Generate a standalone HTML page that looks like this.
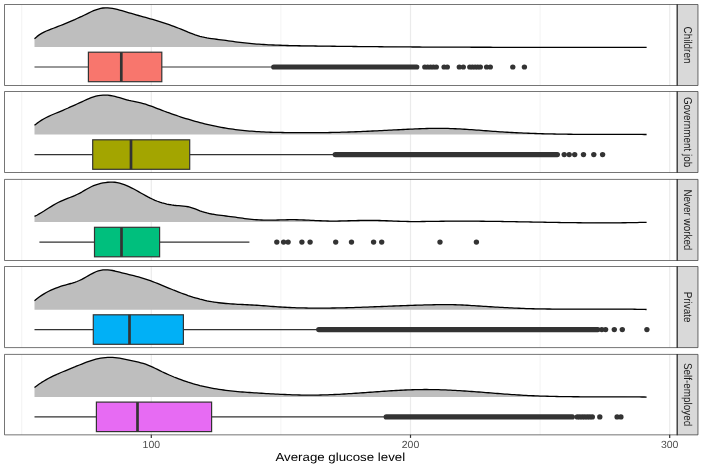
<!DOCTYPE html>
<html><head><meta charset="utf-8"><title>Average glucose level</title>
<style>html,body{margin:0;padding:0;background:#fff;}svg{display:block;font-family:"Liberation Sans",sans-serif;text-rendering:geometricPrecision;will-change:transform;opacity:0.999;}</style></head>
<body>
<svg width="702" height="468" viewBox="0 0 702 468">
<rect width="702" height="468" fill="#fff"/>
<g>
<line x1="21.7" x2="21.7" y1="4.5" y2="85.5" stroke="#ebebeb" stroke-width="0.6"/>
<line x1="280.9" x2="280.9" y1="4.5" y2="85.5" stroke="#ebebeb" stroke-width="0.6"/>
<line x1="540.1" x2="540.1" y1="4.5" y2="85.5" stroke="#ebebeb" stroke-width="0.6"/>
<line x1="151.3" x2="151.3" y1="4.5" y2="85.5" stroke="#ebebeb" stroke-width="1.2"/>
<line x1="410.5" x2="410.5" y1="4.5" y2="85.5" stroke="#ebebeb" stroke-width="1.2"/>
<line x1="669.7" x2="669.7" y1="4.5" y2="85.5" stroke="#ebebeb" stroke-width="1.2"/>
<path d="M34.5,38.73 L36.9,36.64 L39.2,34.88 L41.6,33.39 L44.0,32.12 L46.3,31.02 L48.7,30.04 L51.0,29.13 L53.4,28.24 L55.8,27.34 L58.1,26.42 L60.5,25.49 L62.9,24.54 L65.2,23.58 L67.6,22.60 L69.9,21.61 L72.3,20.60 L74.7,19.57 L77.0,18.52 L79.4,17.45 L81.8,16.35 L84.1,15.23 L86.5,14.07 L88.9,12.90 L91.2,11.77 L93.6,10.71 L95.9,9.78 L98.3,9.01 L100.7,8.41 L103.0,8.01 L105.4,7.82 L107.8,7.86 L110.1,8.07 L112.5,8.44 L114.9,8.92 L117.2,9.46 L119.6,10.07 L121.9,10.71 L124.3,11.38 L126.7,12.08 L129.0,12.78 L131.4,13.48 L133.8,14.17 L136.1,14.84 L138.5,15.50 L140.8,16.15 L143.2,16.80 L145.6,17.44 L147.9,18.09 L150.3,18.76 L152.7,19.44 L155.0,20.13 L157.4,20.85 L159.8,21.58 L162.1,22.33 L164.5,23.11 L166.8,23.90 L169.2,24.72 L171.6,25.56 L173.9,26.43 L176.3,27.33 L178.7,28.25 L181.0,29.20 L183.4,30.17 L185.8,31.15 L188.1,32.11 L190.5,33.05 L192.8,33.95 L195.2,34.79 L197.6,35.56 L199.9,36.27 L202.3,36.90 L204.7,37.45 L207.0,37.92 L209.4,38.32 L211.7,38.66 L214.1,38.97 L216.5,39.25 L218.8,39.54 L221.2,39.83 L223.6,40.14 L225.9,40.47 L228.3,40.80 L230.7,41.14 L233.0,41.47 L235.4,41.80 L237.7,42.11 L240.1,42.41 L242.5,42.69 L244.8,42.95 L247.2,43.19 L249.6,43.42 L251.9,43.64 L254.3,43.84 L256.7,44.03 L259.0,44.20 L261.4,44.36 L263.7,44.51 L266.1,44.65 L268.5,44.78 L270.8,44.89 L273.2,45.00 L275.6,45.10 L277.9,45.19 L280.3,45.27 L282.6,45.35 L285.0,45.42 L287.4,45.48 L289.7,45.54 L292.1,45.60 L294.5,45.64 L296.8,45.69 L299.2,45.73 L301.6,45.78 L303.9,45.81 L306.3,45.85 L308.6,45.89 L311.0,45.93 L313.4,45.96 L315.7,46.00 L318.1,46.04 L320.5,46.07 L322.8,46.10 L325.2,46.14 L327.6,46.17 L329.9,46.20 L332.3,46.23 L334.6,46.26 L337.0,46.29 L339.4,46.32 L341.7,46.35 L344.1,46.38 L346.5,46.41 L348.8,46.44 L351.2,46.46 L353.5,46.49 L355.9,46.52 L358.3,46.54 L360.6,46.56 L363.0,46.59 L365.4,46.61 L367.7,46.64 L370.1,46.66 L372.5,46.68 L374.8,46.70 L377.2,46.72 L379.5,46.74 L381.9,46.76 L384.3,46.78 L386.6,46.80 L389.0,46.82 L391.4,46.84 L393.7,46.86 L396.1,46.87 L398.5,46.89 L400.8,46.91 L403.2,46.92 L405.5,46.94 L407.9,46.95 L410.3,46.97 L412.6,46.98 L415.0,47.00 L417.4,47.01 L419.7,47.02 L422.1,47.04 L424.4,47.05 L426.8,47.06 L429.2,47.07 L431.5,47.08 L433.9,47.10 L436.3,47.11 L438.6,47.12 L441.0,47.13 L443.4,47.14 L445.7,47.15 L448.1,47.15 L450.4,47.16 L452.8,47.17 L455.2,47.18 L457.5,47.19 L459.9,47.20 L462.3,47.20 L464.6,47.21 L467.0,47.22 L469.4,47.22 L471.7,47.23 L474.1,47.24 L476.4,47.24 L478.8,47.25 L481.2,47.25 L483.5,47.26 L485.9,47.26 L488.3,47.27 L490.6,47.27 L493.0,47.28 L495.3,47.28 L497.7,47.28 L500.1,47.29 L502.4,47.29 L504.8,47.29 L507.2,47.30 L509.5,47.30 L511.9,47.30 L514.3,47.31 L516.6,47.31 L519.0,47.31 L521.3,47.31 L523.7,47.32 L526.1,47.32 L528.4,47.32 L530.8,47.32 L533.2,47.32 L535.5,47.33 L537.9,47.33 L540.3,47.33 L542.6,47.33 L545.0,47.33 L547.3,47.33 L549.7,47.34 L552.1,47.34 L554.4,47.34 L556.8,47.34 L559.2,47.34 L561.5,47.34 L563.9,47.34 L566.2,47.34 L568.6,47.35 L571.0,47.35 L573.3,47.35 L575.7,47.35 L578.1,47.35 L580.4,47.35 L582.8,47.35 L585.2,47.35 L587.5,47.36 L589.9,47.36 L592.2,47.36 L594.6,47.36 L597.0,47.36 L599.3,47.36 L601.7,47.36 L604.1,47.37 L606.4,47.37 L608.8,47.37 L611.2,47.37 L613.5,47.37 L615.9,47.38 L618.2,47.38 L620.6,47.38 L623.0,47.38 L625.3,47.39 L627.7,47.39 L630.1,47.39 L632.4,47.40 L634.8,47.40 L637.1,47.40 L639.5,47.41 L641.9,47.41 L644.2,47.42 L646.6,47.42 L646.6,47.0 L34.5,47.0 Z" fill="#bebebe"/>
<path d="M34.5,38.73 L36.9,36.64 L39.2,34.88 L41.6,33.39 L44.0,32.12 L46.3,31.02 L48.7,30.04 L51.0,29.13 L53.4,28.24 L55.8,27.34 L58.1,26.42 L60.5,25.49 L62.9,24.54 L65.2,23.58 L67.6,22.60 L69.9,21.61 L72.3,20.60 L74.7,19.57 L77.0,18.52 L79.4,17.45 L81.8,16.35 L84.1,15.23 L86.5,14.07 L88.9,12.90 L91.2,11.77 L93.6,10.71 L95.9,9.78 L98.3,9.01 L100.7,8.41 L103.0,8.01 L105.4,7.82 L107.8,7.86 L110.1,8.07 L112.5,8.44 L114.9,8.92 L117.2,9.46 L119.6,10.07 L121.9,10.71 L124.3,11.38 L126.7,12.08 L129.0,12.78 L131.4,13.48 L133.8,14.17 L136.1,14.84 L138.5,15.50 L140.8,16.15 L143.2,16.80 L145.6,17.44 L147.9,18.09 L150.3,18.76 L152.7,19.44 L155.0,20.13 L157.4,20.85 L159.8,21.58 L162.1,22.33 L164.5,23.11 L166.8,23.90 L169.2,24.72 L171.6,25.56 L173.9,26.43 L176.3,27.33 L178.7,28.25 L181.0,29.20 L183.4,30.17 L185.8,31.15 L188.1,32.11 L190.5,33.05 L192.8,33.95 L195.2,34.79 L197.6,35.56 L199.9,36.27 L202.3,36.90 L204.7,37.45 L207.0,37.92 L209.4,38.32 L211.7,38.66 L214.1,38.97 L216.5,39.25 L218.8,39.54 L221.2,39.83 L223.6,40.14 L225.9,40.47 L228.3,40.80 L230.7,41.14 L233.0,41.47 L235.4,41.80 L237.7,42.11 L240.1,42.41 L242.5,42.69 L244.8,42.95 L247.2,43.19 L249.6,43.42 L251.9,43.64 L254.3,43.84 L256.7,44.03 L259.0,44.20 L261.4,44.36 L263.7,44.51 L266.1,44.65 L268.5,44.78 L270.8,44.89 L273.2,45.00 L275.6,45.10 L277.9,45.19 L280.3,45.27 L282.6,45.35 L285.0,45.42 L287.4,45.48 L289.7,45.54 L292.1,45.60 L294.5,45.64 L296.8,45.69 L299.2,45.73 L301.6,45.78 L303.9,45.81 L306.3,45.85 L308.6,45.89 L311.0,45.93 L313.4,45.96 L315.7,46.00 L318.1,46.04 L320.5,46.07 L322.8,46.10 L325.2,46.14 L327.6,46.17 L329.9,46.20 L332.3,46.23 L334.6,46.26 L337.0,46.29 L339.4,46.32 L341.7,46.35 L344.1,46.38 L346.5,46.41 L348.8,46.44 L351.2,46.46 L353.5,46.49 L355.9,46.52 L358.3,46.54 L360.6,46.56 L363.0,46.59 L365.4,46.61 L367.7,46.64 L370.1,46.66 L372.5,46.68 L374.8,46.70 L377.2,46.72 L379.5,46.74 L381.9,46.76 L384.3,46.78 L386.6,46.80 L389.0,46.82 L391.4,46.84 L393.7,46.86 L396.1,46.87 L398.5,46.89 L400.8,46.91 L403.2,46.92 L405.5,46.94 L407.9,46.95 L410.3,46.97 L412.6,46.98 L415.0,47.00 L417.4,47.01 L419.7,47.02 L422.1,47.04 L424.4,47.05 L426.8,47.06 L429.2,47.07 L431.5,47.08 L433.9,47.10 L436.3,47.11 L438.6,47.12 L441.0,47.13 L443.4,47.14 L445.7,47.15 L448.1,47.15 L450.4,47.16 L452.8,47.17 L455.2,47.18 L457.5,47.19 L459.9,47.20 L462.3,47.20 L464.6,47.21 L467.0,47.22 L469.4,47.22 L471.7,47.23 L474.1,47.24 L476.4,47.24 L478.8,47.25 L481.2,47.25 L483.5,47.26 L485.9,47.26 L488.3,47.27 L490.6,47.27 L493.0,47.28 L495.3,47.28 L497.7,47.28 L500.1,47.29 L502.4,47.29 L504.8,47.29 L507.2,47.30 L509.5,47.30 L511.9,47.30 L514.3,47.31 L516.6,47.31 L519.0,47.31 L521.3,47.31 L523.7,47.32 L526.1,47.32 L528.4,47.32 L530.8,47.32 L533.2,47.32 L535.5,47.33 L537.9,47.33 L540.3,47.33 L542.6,47.33 L545.0,47.33 L547.3,47.33 L549.7,47.34 L552.1,47.34 L554.4,47.34 L556.8,47.34 L559.2,47.34 L561.5,47.34 L563.9,47.34 L566.2,47.34 L568.6,47.35 L571.0,47.35 L573.3,47.35 L575.7,47.35 L578.1,47.35 L580.4,47.35 L582.8,47.35 L585.2,47.35 L587.5,47.36 L589.9,47.36 L592.2,47.36 L594.6,47.36 L597.0,47.36 L599.3,47.36 L601.7,47.36 L604.1,47.37 L606.4,47.37 L608.8,47.37 L611.2,47.37 L613.5,47.37 L615.9,47.38 L618.2,47.38 L620.6,47.38 L623.0,47.38 L625.3,47.39 L627.7,47.39 L630.1,47.39 L632.4,47.40 L634.8,47.40 L637.1,47.40 L639.5,47.41 L641.9,47.41 L644.2,47.42 L646.6,47.42" fill="none" stroke="#000" stroke-width="1.3" stroke-linejoin="round"/>
<path d="M34.5,67.0 L88.4,67.0 M161.8,67.0 L273.5,67.0" stroke="#333" stroke-width="1.2"/>
<rect x="88.4" y="52.2" width="73.4" height="29.5" fill="#F8766D" stroke="#333" stroke-width="1.2"/>
<line x1="121.3" x2="121.3" y1="52.2" y2="81.7" stroke="#333" stroke-width="2.7"/>
<rect x="271.1" y="64.45" width="148.3" height="5.1" rx="2.7" ry="2.55" fill="#333"/>
<ellipse cx="424.8" cy="67.0" rx="2.7" ry="2.55" fill="#333"/>
<ellipse cx="427.7" cy="67.0" rx="2.7" ry="2.55" fill="#333"/>
<ellipse cx="430.6" cy="67.0" rx="2.7" ry="2.55" fill="#333"/>
<ellipse cx="433.4" cy="67.0" rx="2.7" ry="2.55" fill="#333"/>
<ellipse cx="436.3" cy="67.0" rx="2.7" ry="2.55" fill="#333"/>
<ellipse cx="444.1" cy="67.0" rx="2.7" ry="2.55" fill="#333"/>
<ellipse cx="447.3" cy="67.0" rx="2.7" ry="2.55" fill="#333"/>
<ellipse cx="459.3" cy="67.0" rx="2.7" ry="2.55" fill="#333"/>
<ellipse cx="463.3" cy="67.0" rx="2.7" ry="2.55" fill="#333"/>
<ellipse cx="469.8" cy="67.0" rx="2.7" ry="2.55" fill="#333"/>
<ellipse cx="472.4" cy="67.0" rx="2.7" ry="2.55" fill="#333"/>
<ellipse cx="475.1" cy="67.0" rx="2.7" ry="2.55" fill="#333"/>
<ellipse cx="477.7" cy="67.0" rx="2.7" ry="2.55" fill="#333"/>
<ellipse cx="480.3" cy="67.0" rx="2.7" ry="2.55" fill="#333"/>
<ellipse cx="486.6" cy="67.0" rx="2.7" ry="2.55" fill="#333"/>
<ellipse cx="490.3" cy="67.0" rx="2.7" ry="2.55" fill="#333"/>
<ellipse cx="512.8" cy="67.0" rx="2.7" ry="2.55" fill="#333"/>
<ellipse cx="524.4" cy="67.0" rx="2.7" ry="2.55" fill="#333"/>
<rect x="677.2" y="4.2" width="21.1" height="81.6" fill="#d9d9d9"/>
<path d="M4.5,85.5 L4.5,4.5 L697.95,4.5 L697.95,85.5 Z" fill="none" stroke="#333" stroke-width="0.68"/>
<line x1="677.2" x2="677.2" y1="4.2" y2="85.8" stroke="#333" stroke-width="1.35"/>
<text transform="translate(683.6,45.0) rotate(90) scale(1,1.15)" text-anchor="middle" font-size="9.9" fill="#1a1a1a">Children</text>
</g>
<g>
<line x1="21.7" x2="21.7" y1="91.5" y2="172.5" stroke="#ebebeb" stroke-width="0.6"/>
<line x1="280.9" x2="280.9" y1="91.5" y2="172.5" stroke="#ebebeb" stroke-width="0.6"/>
<line x1="540.1" x2="540.1" y1="91.5" y2="172.5" stroke="#ebebeb" stroke-width="0.6"/>
<line x1="151.3" x2="151.3" y1="91.5" y2="172.5" stroke="#ebebeb" stroke-width="1.2"/>
<line x1="410.5" x2="410.5" y1="91.5" y2="172.5" stroke="#ebebeb" stroke-width="1.2"/>
<line x1="669.7" x2="669.7" y1="91.5" y2="172.5" stroke="#ebebeb" stroke-width="1.2"/>
<path d="M34.5,125.29 L36.9,123.39 L39.2,121.69 L41.6,120.15 L44.0,118.77 L46.3,117.51 L48.7,116.35 L51.0,115.27 L53.4,114.25 L55.8,113.26 L58.1,112.28 L60.5,111.29 L62.9,110.28 L65.2,109.26 L67.6,108.23 L69.9,107.18 L72.3,106.12 L74.7,105.06 L77.0,103.99 L79.4,102.91 L81.8,101.84 L84.1,100.77 L86.5,99.72 L88.9,98.67 L91.2,97.69 L93.6,96.82 L95.9,96.13 L98.3,95.61 L100.7,95.28 L103.0,95.10 L105.4,95.09 L107.8,95.22 L110.1,95.50 L112.5,95.91 L114.9,96.43 L117.2,97.05 L119.6,97.71 L121.9,98.41 L124.3,99.12 L126.7,99.79 L129.0,100.41 L131.4,100.95 L133.8,101.42 L136.1,101.88 L138.5,102.35 L140.8,102.89 L143.2,103.53 L145.6,104.24 L147.9,105.02 L150.3,105.85 L152.7,106.73 L155.0,107.63 L157.4,108.54 L159.8,109.46 L162.1,110.36 L164.5,111.25 L166.8,112.13 L169.2,112.98 L171.6,113.82 L173.9,114.65 L176.3,115.46 L178.7,116.25 L181.0,117.02 L183.4,117.78 L185.8,118.52 L188.1,119.24 L190.5,119.94 L192.8,120.62 L195.2,121.29 L197.6,121.94 L199.9,122.56 L202.3,123.17 L204.7,123.76 L207.0,124.33 L209.4,124.88 L211.7,125.41 L214.1,125.92 L216.5,126.40 L218.8,126.87 L221.2,127.32 L223.6,127.74 L225.9,128.15 L228.3,128.53 L230.7,128.89 L233.0,129.22 L235.4,129.54 L237.7,129.84 L240.1,130.11 L242.5,130.37 L244.8,130.61 L247.2,130.83 L249.6,131.03 L251.9,131.22 L254.3,131.39 L256.7,131.55 L259.0,131.69 L261.4,131.82 L263.7,131.94 L266.1,132.05 L268.5,132.14 L270.8,132.23 L273.2,132.30 L275.6,132.37 L277.9,132.42 L280.3,132.47 L282.6,132.51 L285.0,132.55 L287.4,132.58 L289.7,132.61 L292.1,132.63 L294.5,132.65 L296.8,132.66 L299.2,132.68 L301.6,132.68 L303.9,132.69 L306.3,132.69 L308.6,132.69 L311.0,132.68 L313.4,132.67 L315.7,132.66 L318.1,132.64 L320.5,132.62 L322.8,132.60 L325.2,132.57 L327.6,132.53 L329.9,132.49 L332.3,132.45 L334.6,132.40 L337.0,132.34 L339.4,132.28 L341.7,132.22 L344.1,132.15 L346.5,132.08 L348.8,132.00 L351.2,131.92 L353.5,131.83 L355.9,131.74 L358.3,131.64 L360.6,131.55 L363.0,131.44 L365.4,131.34 L367.7,131.24 L370.1,131.13 L372.5,131.02 L374.8,130.90 L377.2,130.79 L379.5,130.67 L381.9,130.56 L384.3,130.44 L386.6,130.32 L389.0,130.20 L391.4,130.08 L393.7,129.96 L396.1,129.85 L398.5,129.73 L400.8,129.61 L403.2,129.50 L405.5,129.38 L407.9,129.27 L410.3,129.16 L412.6,129.05 L415.0,128.94 L417.4,128.84 L419.7,128.75 L422.1,128.66 L424.4,128.59 L426.8,128.52 L429.2,128.46 L431.5,128.41 L433.9,128.37 L436.3,128.35 L438.6,128.34 L441.0,128.35 L443.4,128.38 L445.7,128.42 L448.1,128.47 L450.4,128.54 L452.8,128.63 L455.2,128.73 L457.5,128.84 L459.9,128.96 L462.3,129.09 L464.6,129.23 L467.0,129.38 L469.4,129.54 L471.7,129.70 L474.1,129.87 L476.4,130.04 L478.8,130.21 L481.2,130.39 L483.5,130.57 L485.9,130.75 L488.3,130.93 L490.6,131.10 L493.0,131.28 L495.3,131.45 L497.7,131.62 L500.1,131.78 L502.4,131.93 L504.8,132.08 L507.2,132.23 L509.5,132.36 L511.9,132.50 L514.3,132.62 L516.6,132.74 L519.0,132.86 L521.3,132.97 L523.7,133.07 L526.1,133.17 L528.4,133.27 L530.8,133.35 L533.2,133.44 L535.5,133.52 L537.9,133.60 L540.3,133.67 L542.6,133.74 L545.0,133.80 L547.3,133.86 L549.7,133.92 L552.1,133.97 L554.4,134.02 L556.8,134.06 L559.2,134.10 L561.5,134.14 L563.9,134.18 L566.2,134.21 L568.6,134.24 L571.0,134.27 L573.3,134.29 L575.7,134.32 L578.1,134.34 L580.4,134.36 L582.8,134.37 L585.2,134.39 L587.5,134.40 L589.9,134.41 L592.2,134.42 L594.6,134.42 L597.0,134.43 L599.3,134.44 L601.7,134.44 L604.1,134.44 L606.4,134.45 L608.8,134.45 L611.2,134.45 L613.5,134.45 L615.9,134.45 L618.2,134.45 L620.6,134.45 L623.0,134.45 L625.3,134.45 L627.7,134.45 L630.1,134.45 L632.4,134.46 L634.8,134.46 L637.1,134.46 L639.5,134.47 L641.9,134.47 L644.2,134.48 L646.6,134.49 L646.6,134.6 L34.5,134.6 Z" fill="#bebebe"/>
<path d="M34.5,125.29 L36.9,123.39 L39.2,121.69 L41.6,120.15 L44.0,118.77 L46.3,117.51 L48.7,116.35 L51.0,115.27 L53.4,114.25 L55.8,113.26 L58.1,112.28 L60.5,111.29 L62.9,110.28 L65.2,109.26 L67.6,108.23 L69.9,107.18 L72.3,106.12 L74.7,105.06 L77.0,103.99 L79.4,102.91 L81.8,101.84 L84.1,100.77 L86.5,99.72 L88.9,98.67 L91.2,97.69 L93.6,96.82 L95.9,96.13 L98.3,95.61 L100.7,95.28 L103.0,95.10 L105.4,95.09 L107.8,95.22 L110.1,95.50 L112.5,95.91 L114.9,96.43 L117.2,97.05 L119.6,97.71 L121.9,98.41 L124.3,99.12 L126.7,99.79 L129.0,100.41 L131.4,100.95 L133.8,101.42 L136.1,101.88 L138.5,102.35 L140.8,102.89 L143.2,103.53 L145.6,104.24 L147.9,105.02 L150.3,105.85 L152.7,106.73 L155.0,107.63 L157.4,108.54 L159.8,109.46 L162.1,110.36 L164.5,111.25 L166.8,112.13 L169.2,112.98 L171.6,113.82 L173.9,114.65 L176.3,115.46 L178.7,116.25 L181.0,117.02 L183.4,117.78 L185.8,118.52 L188.1,119.24 L190.5,119.94 L192.8,120.62 L195.2,121.29 L197.6,121.94 L199.9,122.56 L202.3,123.17 L204.7,123.76 L207.0,124.33 L209.4,124.88 L211.7,125.41 L214.1,125.92 L216.5,126.40 L218.8,126.87 L221.2,127.32 L223.6,127.74 L225.9,128.15 L228.3,128.53 L230.7,128.89 L233.0,129.22 L235.4,129.54 L237.7,129.84 L240.1,130.11 L242.5,130.37 L244.8,130.61 L247.2,130.83 L249.6,131.03 L251.9,131.22 L254.3,131.39 L256.7,131.55 L259.0,131.69 L261.4,131.82 L263.7,131.94 L266.1,132.05 L268.5,132.14 L270.8,132.23 L273.2,132.30 L275.6,132.37 L277.9,132.42 L280.3,132.47 L282.6,132.51 L285.0,132.55 L287.4,132.58 L289.7,132.61 L292.1,132.63 L294.5,132.65 L296.8,132.66 L299.2,132.68 L301.6,132.68 L303.9,132.69 L306.3,132.69 L308.6,132.69 L311.0,132.68 L313.4,132.67 L315.7,132.66 L318.1,132.64 L320.5,132.62 L322.8,132.60 L325.2,132.57 L327.6,132.53 L329.9,132.49 L332.3,132.45 L334.6,132.40 L337.0,132.34 L339.4,132.28 L341.7,132.22 L344.1,132.15 L346.5,132.08 L348.8,132.00 L351.2,131.92 L353.5,131.83 L355.9,131.74 L358.3,131.64 L360.6,131.55 L363.0,131.44 L365.4,131.34 L367.7,131.24 L370.1,131.13 L372.5,131.02 L374.8,130.90 L377.2,130.79 L379.5,130.67 L381.9,130.56 L384.3,130.44 L386.6,130.32 L389.0,130.20 L391.4,130.08 L393.7,129.96 L396.1,129.85 L398.5,129.73 L400.8,129.61 L403.2,129.50 L405.5,129.38 L407.9,129.27 L410.3,129.16 L412.6,129.05 L415.0,128.94 L417.4,128.84 L419.7,128.75 L422.1,128.66 L424.4,128.59 L426.8,128.52 L429.2,128.46 L431.5,128.41 L433.9,128.37 L436.3,128.35 L438.6,128.34 L441.0,128.35 L443.4,128.38 L445.7,128.42 L448.1,128.47 L450.4,128.54 L452.8,128.63 L455.2,128.73 L457.5,128.84 L459.9,128.96 L462.3,129.09 L464.6,129.23 L467.0,129.38 L469.4,129.54 L471.7,129.70 L474.1,129.87 L476.4,130.04 L478.8,130.21 L481.2,130.39 L483.5,130.57 L485.9,130.75 L488.3,130.93 L490.6,131.10 L493.0,131.28 L495.3,131.45 L497.7,131.62 L500.1,131.78 L502.4,131.93 L504.8,132.08 L507.2,132.23 L509.5,132.36 L511.9,132.50 L514.3,132.62 L516.6,132.74 L519.0,132.86 L521.3,132.97 L523.7,133.07 L526.1,133.17 L528.4,133.27 L530.8,133.35 L533.2,133.44 L535.5,133.52 L537.9,133.60 L540.3,133.67 L542.6,133.74 L545.0,133.80 L547.3,133.86 L549.7,133.92 L552.1,133.97 L554.4,134.02 L556.8,134.06 L559.2,134.10 L561.5,134.14 L563.9,134.18 L566.2,134.21 L568.6,134.24 L571.0,134.27 L573.3,134.29 L575.7,134.32 L578.1,134.34 L580.4,134.36 L582.8,134.37 L585.2,134.39 L587.5,134.40 L589.9,134.41 L592.2,134.42 L594.6,134.42 L597.0,134.43 L599.3,134.44 L601.7,134.44 L604.1,134.44 L606.4,134.45 L608.8,134.45 L611.2,134.45 L613.5,134.45 L615.9,134.45 L618.2,134.45 L620.6,134.45 L623.0,134.45 L625.3,134.45 L627.7,134.45 L630.1,134.45 L632.4,134.46 L634.8,134.46 L637.1,134.46 L639.5,134.47 L641.9,134.47 L644.2,134.48 L646.6,134.49" fill="none" stroke="#000" stroke-width="1.3" stroke-linejoin="round"/>
<path d="M34.5,154.6 L92.7,154.6 M189.7,154.6 L335.0,154.6" stroke="#333" stroke-width="1.2"/>
<rect x="92.7" y="139.8" width="97.0" height="29.5" fill="#A3A500" stroke="#333" stroke-width="1.2"/>
<line x1="131.0" x2="131.0" y1="139.8" y2="169.3" stroke="#333" stroke-width="2.7"/>
<rect x="332.6" y="152.05" width="227.4" height="5.1" rx="2.7" ry="2.55" fill="#333"/>
<ellipse cx="564.1999999999999" cy="154.6" rx="2.7" ry="2.55" fill="#333"/>
<ellipse cx="569.1999999999999" cy="154.6" rx="2.7" ry="2.55" fill="#333"/>
<ellipse cx="574.6999999999999" cy="154.6" rx="2.7" ry="2.55" fill="#333"/>
<ellipse cx="583.5" cy="154.6" rx="2.7" ry="2.55" fill="#333"/>
<ellipse cx="593.8" cy="154.6" rx="2.7" ry="2.55" fill="#333"/>
<ellipse cx="602.5999999999999" cy="154.6" rx="2.7" ry="2.55" fill="#333"/>
<rect x="677.2" y="91.2" width="21.1" height="81.6" fill="#d9d9d9"/>
<path d="M4.5,172.5 L4.5,91.5 L697.95,91.5 L697.95,172.5 Z" fill="none" stroke="#333" stroke-width="0.68"/>
<line x1="677.2" x2="677.2" y1="91.2" y2="172.8" stroke="#333" stroke-width="1.35"/>
<text transform="translate(683.6,132.0) rotate(90) scale(1,1.15)" text-anchor="middle" font-size="9.9" fill="#1a1a1a">Government job</text>
</g>
<g>
<line x1="21.7" x2="21.7" y1="179.4" y2="260.5" stroke="#ebebeb" stroke-width="0.6"/>
<line x1="280.9" x2="280.9" y1="179.4" y2="260.5" stroke="#ebebeb" stroke-width="0.6"/>
<line x1="540.1" x2="540.1" y1="179.4" y2="260.5" stroke="#ebebeb" stroke-width="0.6"/>
<line x1="151.3" x2="151.3" y1="179.4" y2="260.5" stroke="#ebebeb" stroke-width="1.2"/>
<line x1="410.5" x2="410.5" y1="179.4" y2="260.5" stroke="#ebebeb" stroke-width="1.2"/>
<line x1="669.7" x2="669.7" y1="179.4" y2="260.5" stroke="#ebebeb" stroke-width="1.2"/>
<path d="M34.5,216.41 L36.9,215.21 L39.2,213.89 L41.6,212.50 L44.0,211.04 L46.3,209.55 L48.7,208.06 L51.0,206.58 L53.4,205.15 L55.8,203.79 L58.1,202.52 L60.5,201.37 L62.9,200.32 L65.2,199.35 L67.6,198.42 L69.9,197.50 L72.3,196.56 L74.7,195.58 L77.0,194.52 L79.4,193.35 L81.8,192.06 L84.1,190.68 L86.5,189.29 L88.9,187.96 L91.2,186.76 L93.6,185.71 L95.9,184.82 L98.3,184.06 L100.7,183.43 L103.0,182.93 L105.4,182.55 L107.8,182.27 L110.1,182.12 L112.5,182.11 L114.9,182.26 L117.2,182.59 L119.6,183.10 L121.9,183.78 L124.3,184.61 L126.7,185.57 L129.0,186.63 L131.4,187.79 L133.8,189.01 L136.1,190.30 L138.5,191.62 L140.8,192.95 L143.2,194.29 L145.6,195.61 L147.9,196.89 L150.3,198.11 L152.7,199.26 L155.0,200.31 L157.4,201.26 L159.8,202.10 L162.1,202.84 L164.5,203.49 L166.8,204.04 L169.2,204.51 L171.6,204.91 L173.9,205.24 L176.3,205.51 L178.7,205.72 L181.0,205.89 L183.4,206.09 L185.8,206.35 L188.1,206.74 L190.5,207.31 L192.8,208.07 L195.2,208.96 L197.6,209.90 L199.9,210.80 L202.3,211.62 L204.7,212.33 L207.0,212.96 L209.4,213.51 L211.7,213.99 L214.1,214.41 L216.5,214.79 L218.8,215.12 L221.2,215.43 L223.6,215.72 L225.9,216.00 L228.3,216.29 L230.7,216.58 L233.0,216.89 L235.4,217.22 L237.7,217.55 L240.1,217.88 L242.5,218.21 L244.8,218.52 L247.2,218.82 L249.6,219.09 L251.9,219.33 L254.3,219.55 L256.7,219.73 L259.0,219.89 L261.4,220.00 L263.7,220.08 L266.1,220.13 L268.5,220.14 L270.8,220.13 L273.2,220.09 L275.6,220.05 L277.9,219.99 L280.3,219.92 L282.6,219.86 L285.0,219.80 L287.4,219.75 L289.7,219.72 L292.1,219.70 L294.5,219.71 L296.8,219.75 L299.2,219.81 L301.6,219.89 L303.9,219.98 L306.3,220.08 L308.6,220.19 L311.0,220.31 L313.4,220.43 L315.7,220.55 L318.1,220.66 L320.5,220.77 L322.8,220.86 L325.2,220.94 L327.6,221.00 L329.9,221.04 L332.3,221.06 L334.6,221.06 L337.0,221.03 L339.4,220.99 L341.7,220.94 L344.1,220.88 L346.5,220.81 L348.8,220.74 L351.2,220.67 L353.5,220.60 L355.9,220.54 L358.3,220.48 L360.6,220.44 L363.0,220.40 L365.4,220.38 L367.7,220.37 L370.1,220.37 L372.5,220.39 L374.8,220.42 L377.2,220.46 L379.5,220.52 L381.9,220.59 L384.3,220.68 L386.6,220.77 L389.0,220.86 L391.4,220.96 L393.7,221.06 L396.1,221.15 L398.5,221.24 L400.8,221.32 L403.2,221.40 L405.5,221.45 L407.9,221.50 L410.3,221.53 L412.6,221.54 L415.0,221.55 L417.4,221.55 L419.7,221.54 L422.1,221.52 L424.4,221.49 L426.8,221.46 L429.2,221.43 L431.5,221.40 L433.9,221.36 L436.3,221.32 L438.6,221.29 L441.0,221.26 L443.4,221.23 L445.7,221.21 L448.1,221.19 L450.4,221.18 L452.8,221.16 L455.2,221.15 L457.5,221.15 L459.9,221.14 L462.3,221.14 L464.6,221.15 L467.0,221.15 L469.4,221.16 L471.7,221.17 L474.1,221.18 L476.4,221.20 L478.8,221.22 L481.2,221.24 L483.5,221.26 L485.9,221.28 L488.3,221.31 L490.6,221.34 L493.0,221.37 L495.3,221.40 L497.7,221.43 L500.1,221.47 L502.4,221.50 L504.8,221.54 L507.2,221.58 L509.5,221.62 L511.9,221.66 L514.3,221.70 L516.6,221.74 L519.0,221.78 L521.3,221.82 L523.7,221.86 L526.1,221.91 L528.4,221.95 L530.8,222.00 L533.2,222.04 L535.5,222.08 L537.9,222.13 L540.3,222.17 L542.6,222.21 L545.0,222.26 L547.3,222.30 L549.7,222.34 L552.1,222.38 L554.4,222.42 L556.8,222.46 L559.2,222.50 L561.5,222.53 L563.9,222.57 L566.2,222.60 L568.6,222.63 L571.0,222.67 L573.3,222.69 L575.7,222.72 L578.1,222.75 L580.4,222.77 L582.8,222.79 L585.2,222.81 L587.5,222.83 L589.9,222.85 L592.2,222.86 L594.6,222.87 L597.0,222.88 L599.3,222.89 L601.7,222.89 L604.1,222.89 L606.4,222.88 L608.8,222.88 L611.2,222.87 L613.5,222.86 L615.9,222.84 L618.2,222.82 L620.6,222.80 L623.0,222.77 L625.3,222.74 L627.7,222.70 L630.1,222.67 L632.4,222.62 L634.8,222.58 L637.1,222.53 L639.5,222.47 L641.9,222.41 L644.2,222.35 L646.6,222.28 L646.6,222.1 L34.5,222.1 Z" fill="#bebebe"/>
<path d="M34.5,216.41 L36.9,215.21 L39.2,213.89 L41.6,212.50 L44.0,211.04 L46.3,209.55 L48.7,208.06 L51.0,206.58 L53.4,205.15 L55.8,203.79 L58.1,202.52 L60.5,201.37 L62.9,200.32 L65.2,199.35 L67.6,198.42 L69.9,197.50 L72.3,196.56 L74.7,195.58 L77.0,194.52 L79.4,193.35 L81.8,192.06 L84.1,190.68 L86.5,189.29 L88.9,187.96 L91.2,186.76 L93.6,185.71 L95.9,184.82 L98.3,184.06 L100.7,183.43 L103.0,182.93 L105.4,182.55 L107.8,182.27 L110.1,182.12 L112.5,182.11 L114.9,182.26 L117.2,182.59 L119.6,183.10 L121.9,183.78 L124.3,184.61 L126.7,185.57 L129.0,186.63 L131.4,187.79 L133.8,189.01 L136.1,190.30 L138.5,191.62 L140.8,192.95 L143.2,194.29 L145.6,195.61 L147.9,196.89 L150.3,198.11 L152.7,199.26 L155.0,200.31 L157.4,201.26 L159.8,202.10 L162.1,202.84 L164.5,203.49 L166.8,204.04 L169.2,204.51 L171.6,204.91 L173.9,205.24 L176.3,205.51 L178.7,205.72 L181.0,205.89 L183.4,206.09 L185.8,206.35 L188.1,206.74 L190.5,207.31 L192.8,208.07 L195.2,208.96 L197.6,209.90 L199.9,210.80 L202.3,211.62 L204.7,212.33 L207.0,212.96 L209.4,213.51 L211.7,213.99 L214.1,214.41 L216.5,214.79 L218.8,215.12 L221.2,215.43 L223.6,215.72 L225.9,216.00 L228.3,216.29 L230.7,216.58 L233.0,216.89 L235.4,217.22 L237.7,217.55 L240.1,217.88 L242.5,218.21 L244.8,218.52 L247.2,218.82 L249.6,219.09 L251.9,219.33 L254.3,219.55 L256.7,219.73 L259.0,219.89 L261.4,220.00 L263.7,220.08 L266.1,220.13 L268.5,220.14 L270.8,220.13 L273.2,220.09 L275.6,220.05 L277.9,219.99 L280.3,219.92 L282.6,219.86 L285.0,219.80 L287.4,219.75 L289.7,219.72 L292.1,219.70 L294.5,219.71 L296.8,219.75 L299.2,219.81 L301.6,219.89 L303.9,219.98 L306.3,220.08 L308.6,220.19 L311.0,220.31 L313.4,220.43 L315.7,220.55 L318.1,220.66 L320.5,220.77 L322.8,220.86 L325.2,220.94 L327.6,221.00 L329.9,221.04 L332.3,221.06 L334.6,221.06 L337.0,221.03 L339.4,220.99 L341.7,220.94 L344.1,220.88 L346.5,220.81 L348.8,220.74 L351.2,220.67 L353.5,220.60 L355.9,220.54 L358.3,220.48 L360.6,220.44 L363.0,220.40 L365.4,220.38 L367.7,220.37 L370.1,220.37 L372.5,220.39 L374.8,220.42 L377.2,220.46 L379.5,220.52 L381.9,220.59 L384.3,220.68 L386.6,220.77 L389.0,220.86 L391.4,220.96 L393.7,221.06 L396.1,221.15 L398.5,221.24 L400.8,221.32 L403.2,221.40 L405.5,221.45 L407.9,221.50 L410.3,221.53 L412.6,221.54 L415.0,221.55 L417.4,221.55 L419.7,221.54 L422.1,221.52 L424.4,221.49 L426.8,221.46 L429.2,221.43 L431.5,221.40 L433.9,221.36 L436.3,221.32 L438.6,221.29 L441.0,221.26 L443.4,221.23 L445.7,221.21 L448.1,221.19 L450.4,221.18 L452.8,221.16 L455.2,221.15 L457.5,221.15 L459.9,221.14 L462.3,221.14 L464.6,221.15 L467.0,221.15 L469.4,221.16 L471.7,221.17 L474.1,221.18 L476.4,221.20 L478.8,221.22 L481.2,221.24 L483.5,221.26 L485.9,221.28 L488.3,221.31 L490.6,221.34 L493.0,221.37 L495.3,221.40 L497.7,221.43 L500.1,221.47 L502.4,221.50 L504.8,221.54 L507.2,221.58 L509.5,221.62 L511.9,221.66 L514.3,221.70 L516.6,221.74 L519.0,221.78 L521.3,221.82 L523.7,221.86 L526.1,221.91 L528.4,221.95 L530.8,222.00 L533.2,222.04 L535.5,222.08 L537.9,222.13 L540.3,222.17 L542.6,222.21 L545.0,222.26 L547.3,222.30 L549.7,222.34 L552.1,222.38 L554.4,222.42 L556.8,222.46 L559.2,222.50 L561.5,222.53 L563.9,222.57 L566.2,222.60 L568.6,222.63 L571.0,222.67 L573.3,222.69 L575.7,222.72 L578.1,222.75 L580.4,222.77 L582.8,222.79 L585.2,222.81 L587.5,222.83 L589.9,222.85 L592.2,222.86 L594.6,222.87 L597.0,222.88 L599.3,222.89 L601.7,222.89 L604.1,222.89 L606.4,222.88 L608.8,222.88 L611.2,222.87 L613.5,222.86 L615.9,222.84 L618.2,222.82 L620.6,222.80 L623.0,222.77 L625.3,222.74 L627.7,222.70 L630.1,222.67 L632.4,222.62 L634.8,222.58 L637.1,222.53 L639.5,222.47 L641.9,222.41 L644.2,222.35 L646.6,222.28" fill="none" stroke="#000" stroke-width="1.3" stroke-linejoin="round"/>
<path d="M39.4,242.1 L94.5,242.1 M159.6,242.1 L249.4,242.1" stroke="#333" stroke-width="1.2"/>
<rect x="94.5" y="227.3" width="65.1" height="29.5" fill="#00BF7D" stroke="#333" stroke-width="1.2"/>
<line x1="121.5" x2="121.5" y1="227.3" y2="256.8" stroke="#333" stroke-width="2.7"/>
<ellipse cx="276.8" cy="242.1" rx="2.7" ry="2.55" fill="#333"/>
<ellipse cx="283.6" cy="242.1" rx="2.7" ry="2.55" fill="#333"/>
<ellipse cx="288.1" cy="242.1" rx="2.7" ry="2.55" fill="#333"/>
<ellipse cx="301.90000000000003" cy="242.1" rx="2.7" ry="2.55" fill="#333"/>
<ellipse cx="310.1" cy="242.1" rx="2.7" ry="2.55" fill="#333"/>
<ellipse cx="335.7" cy="242.1" rx="2.7" ry="2.55" fill="#333"/>
<ellipse cx="351.5" cy="242.1" rx="2.7" ry="2.55" fill="#333"/>
<ellipse cx="373.6" cy="242.1" rx="2.7" ry="2.55" fill="#333"/>
<ellipse cx="381.7" cy="242.1" rx="2.7" ry="2.55" fill="#333"/>
<ellipse cx="440.0" cy="242.1" rx="2.7" ry="2.55" fill="#333"/>
<ellipse cx="476.40000000000003" cy="242.1" rx="2.7" ry="2.55" fill="#333"/>
<rect x="677.2" y="179.1" width="21.1" height="81.7" fill="#d9d9d9"/>
<path d="M4.5,260.5 L4.5,179.4 L697.95,179.4 L697.95,260.5 Z" fill="none" stroke="#333" stroke-width="0.68"/>
<line x1="677.2" x2="677.2" y1="179.1" y2="260.8" stroke="#333" stroke-width="1.35"/>
<text transform="translate(683.6,219.9) rotate(90) scale(1,1.15)" text-anchor="middle" font-size="9.9" fill="#1a1a1a">Never worked</text>
</g>
<g>
<line x1="21.7" x2="21.7" y1="266.5" y2="347.6" stroke="#ebebeb" stroke-width="0.6"/>
<line x1="280.9" x2="280.9" y1="266.5" y2="347.6" stroke="#ebebeb" stroke-width="0.6"/>
<line x1="540.1" x2="540.1" y1="266.5" y2="347.6" stroke="#ebebeb" stroke-width="0.6"/>
<line x1="151.3" x2="151.3" y1="266.5" y2="347.6" stroke="#ebebeb" stroke-width="1.2"/>
<line x1="410.5" x2="410.5" y1="266.5" y2="347.6" stroke="#ebebeb" stroke-width="1.2"/>
<line x1="669.7" x2="669.7" y1="266.5" y2="347.6" stroke="#ebebeb" stroke-width="1.2"/>
<path d="M34.5,300.75 L36.9,298.80 L39.2,297.01 L41.6,295.37 L44.0,293.87 L46.3,292.51 L48.7,291.26 L51.0,290.12 L53.4,289.09 L55.8,288.14 L58.1,287.28 L60.5,286.48 L62.9,285.74 L65.2,285.05 L67.6,284.40 L69.9,283.75 L72.3,283.07 L74.7,282.33 L77.0,281.49 L79.4,280.52 L81.8,279.38 L84.1,278.11 L86.5,276.76 L88.9,275.39 L91.2,274.06 L93.6,272.83 L95.9,271.75 L98.3,270.88 L100.7,270.28 L103.0,269.91 L105.4,269.78 L107.8,269.84 L110.1,270.09 L112.5,270.49 L114.9,271.01 L117.2,271.60 L119.6,272.21 L121.9,272.80 L124.3,273.38 L126.7,273.95 L129.0,274.53 L131.4,275.11 L133.8,275.71 L136.1,276.32 L138.5,276.96 L140.8,277.64 L143.2,278.34 L145.6,279.09 L147.9,279.89 L150.3,280.73 L152.7,281.60 L155.0,282.51 L157.4,283.44 L159.8,284.39 L162.1,285.36 L164.5,286.33 L166.8,287.31 L169.2,288.29 L171.6,289.26 L173.9,290.23 L176.3,291.17 L178.7,292.09 L181.0,292.99 L183.4,293.87 L185.8,294.72 L188.1,295.54 L190.5,296.33 L192.8,297.08 L195.2,297.80 L197.6,298.49 L199.9,299.13 L202.3,299.73 L204.7,300.30 L207.0,300.81 L209.4,301.28 L211.7,301.71 L214.1,302.09 L216.5,302.44 L218.8,302.75 L221.2,303.02 L223.6,303.27 L225.9,303.49 L228.3,303.68 L230.7,303.86 L233.0,304.01 L235.4,304.16 L237.7,304.29 L240.1,304.41 L242.5,304.52 L244.8,304.64 L247.2,304.75 L249.6,304.87 L251.9,304.99 L254.3,305.12 L256.7,305.27 L259.0,305.43 L261.4,305.59 L263.7,305.77 L266.1,305.94 L268.5,306.13 L270.8,306.31 L273.2,306.49 L275.6,306.66 L277.9,306.83 L280.3,306.99 L282.6,307.13 L285.0,307.27 L287.4,307.39 L289.7,307.50 L292.1,307.61 L294.5,307.70 L296.8,307.78 L299.2,307.85 L301.6,307.92 L303.9,307.97 L306.3,308.02 L308.6,308.05 L311.0,308.08 L313.4,308.10 L315.7,308.12 L318.1,308.12 L320.5,308.12 L322.8,308.11 L325.2,308.10 L327.6,308.08 L329.9,308.05 L332.3,308.02 L334.6,307.99 L337.0,307.94 L339.4,307.90 L341.7,307.85 L344.1,307.79 L346.5,307.73 L348.8,307.67 L351.2,307.60 L353.5,307.53 L355.9,307.45 L358.3,307.38 L360.6,307.30 L363.0,307.21 L365.4,307.13 L367.7,307.04 L370.1,306.95 L372.5,306.86 L374.8,306.77 L377.2,306.68 L379.5,306.58 L381.9,306.49 L384.3,306.40 L386.6,306.30 L389.0,306.21 L391.4,306.11 L393.7,306.02 L396.1,305.93 L398.5,305.84 L400.8,305.75 L403.2,305.66 L405.5,305.57 L407.9,305.48 L410.3,305.40 L412.6,305.32 L415.0,305.24 L417.4,305.17 L419.7,305.10 L422.1,305.03 L424.4,304.97 L426.8,304.90 L429.2,304.85 L431.5,304.80 L433.9,304.75 L436.3,304.71 L438.6,304.68 L441.0,304.65 L443.4,304.64 L445.7,304.64 L448.1,304.65 L450.4,304.67 L452.8,304.71 L455.2,304.76 L457.5,304.83 L459.9,304.92 L462.3,305.02 L464.6,305.13 L467.0,305.25 L469.4,305.39 L471.7,305.53 L474.1,305.67 L476.4,305.82 L478.8,305.98 L481.2,306.14 L483.5,306.29 L485.9,306.45 L488.3,306.60 L490.6,306.75 L493.0,306.90 L495.3,307.04 L497.7,307.19 L500.1,307.32 L502.4,307.46 L504.8,307.59 L507.2,307.71 L509.5,307.83 L511.9,307.95 L514.3,308.06 L516.6,308.17 L519.0,308.27 L521.3,308.36 L523.7,308.45 L526.1,308.53 L528.4,308.60 L530.8,308.67 L533.2,308.74 L535.5,308.79 L537.9,308.84 L540.3,308.89 L542.6,308.93 L545.0,308.97 L547.3,309.00 L549.7,309.02 L552.1,309.05 L554.4,309.07 L556.8,309.08 L559.2,309.10 L561.5,309.11 L563.9,309.11 L566.2,309.12 L568.6,309.12 L571.0,309.12 L573.3,309.12 L575.7,309.11 L578.1,309.11 L580.4,309.10 L582.8,309.09 L585.2,309.09 L587.5,309.08 L589.9,309.07 L592.2,309.06 L594.6,309.06 L597.0,309.05 L599.3,309.04 L601.7,309.04 L604.1,309.04 L606.4,309.03 L608.8,309.03 L611.2,309.04 L613.5,309.04 L615.9,309.05 L618.2,309.06 L620.6,309.07 L623.0,309.09 L625.3,309.11 L627.7,309.14 L630.1,309.16 L632.4,309.20 L634.8,309.23 L637.1,309.28 L639.5,309.32 L641.9,309.38 L644.2,309.43 L646.6,309.50 L646.6,309.7 L34.5,309.7 Z" fill="#bebebe"/>
<path d="M34.5,300.75 L36.9,298.80 L39.2,297.01 L41.6,295.37 L44.0,293.87 L46.3,292.51 L48.7,291.26 L51.0,290.12 L53.4,289.09 L55.8,288.14 L58.1,287.28 L60.5,286.48 L62.9,285.74 L65.2,285.05 L67.6,284.40 L69.9,283.75 L72.3,283.07 L74.7,282.33 L77.0,281.49 L79.4,280.52 L81.8,279.38 L84.1,278.11 L86.5,276.76 L88.9,275.39 L91.2,274.06 L93.6,272.83 L95.9,271.75 L98.3,270.88 L100.7,270.28 L103.0,269.91 L105.4,269.78 L107.8,269.84 L110.1,270.09 L112.5,270.49 L114.9,271.01 L117.2,271.60 L119.6,272.21 L121.9,272.80 L124.3,273.38 L126.7,273.95 L129.0,274.53 L131.4,275.11 L133.8,275.71 L136.1,276.32 L138.5,276.96 L140.8,277.64 L143.2,278.34 L145.6,279.09 L147.9,279.89 L150.3,280.73 L152.7,281.60 L155.0,282.51 L157.4,283.44 L159.8,284.39 L162.1,285.36 L164.5,286.33 L166.8,287.31 L169.2,288.29 L171.6,289.26 L173.9,290.23 L176.3,291.17 L178.7,292.09 L181.0,292.99 L183.4,293.87 L185.8,294.72 L188.1,295.54 L190.5,296.33 L192.8,297.08 L195.2,297.80 L197.6,298.49 L199.9,299.13 L202.3,299.73 L204.7,300.30 L207.0,300.81 L209.4,301.28 L211.7,301.71 L214.1,302.09 L216.5,302.44 L218.8,302.75 L221.2,303.02 L223.6,303.27 L225.9,303.49 L228.3,303.68 L230.7,303.86 L233.0,304.01 L235.4,304.16 L237.7,304.29 L240.1,304.41 L242.5,304.52 L244.8,304.64 L247.2,304.75 L249.6,304.87 L251.9,304.99 L254.3,305.12 L256.7,305.27 L259.0,305.43 L261.4,305.59 L263.7,305.77 L266.1,305.94 L268.5,306.13 L270.8,306.31 L273.2,306.49 L275.6,306.66 L277.9,306.83 L280.3,306.99 L282.6,307.13 L285.0,307.27 L287.4,307.39 L289.7,307.50 L292.1,307.61 L294.5,307.70 L296.8,307.78 L299.2,307.85 L301.6,307.92 L303.9,307.97 L306.3,308.02 L308.6,308.05 L311.0,308.08 L313.4,308.10 L315.7,308.12 L318.1,308.12 L320.5,308.12 L322.8,308.11 L325.2,308.10 L327.6,308.08 L329.9,308.05 L332.3,308.02 L334.6,307.99 L337.0,307.94 L339.4,307.90 L341.7,307.85 L344.1,307.79 L346.5,307.73 L348.8,307.67 L351.2,307.60 L353.5,307.53 L355.9,307.45 L358.3,307.38 L360.6,307.30 L363.0,307.21 L365.4,307.13 L367.7,307.04 L370.1,306.95 L372.5,306.86 L374.8,306.77 L377.2,306.68 L379.5,306.58 L381.9,306.49 L384.3,306.40 L386.6,306.30 L389.0,306.21 L391.4,306.11 L393.7,306.02 L396.1,305.93 L398.5,305.84 L400.8,305.75 L403.2,305.66 L405.5,305.57 L407.9,305.48 L410.3,305.40 L412.6,305.32 L415.0,305.24 L417.4,305.17 L419.7,305.10 L422.1,305.03 L424.4,304.97 L426.8,304.90 L429.2,304.85 L431.5,304.80 L433.9,304.75 L436.3,304.71 L438.6,304.68 L441.0,304.65 L443.4,304.64 L445.7,304.64 L448.1,304.65 L450.4,304.67 L452.8,304.71 L455.2,304.76 L457.5,304.83 L459.9,304.92 L462.3,305.02 L464.6,305.13 L467.0,305.25 L469.4,305.39 L471.7,305.53 L474.1,305.67 L476.4,305.82 L478.8,305.98 L481.2,306.14 L483.5,306.29 L485.9,306.45 L488.3,306.60 L490.6,306.75 L493.0,306.90 L495.3,307.04 L497.7,307.19 L500.1,307.32 L502.4,307.46 L504.8,307.59 L507.2,307.71 L509.5,307.83 L511.9,307.95 L514.3,308.06 L516.6,308.17 L519.0,308.27 L521.3,308.36 L523.7,308.45 L526.1,308.53 L528.4,308.60 L530.8,308.67 L533.2,308.74 L535.5,308.79 L537.9,308.84 L540.3,308.89 L542.6,308.93 L545.0,308.97 L547.3,309.00 L549.7,309.02 L552.1,309.05 L554.4,309.07 L556.8,309.08 L559.2,309.10 L561.5,309.11 L563.9,309.11 L566.2,309.12 L568.6,309.12 L571.0,309.12 L573.3,309.12 L575.7,309.11 L578.1,309.11 L580.4,309.10 L582.8,309.09 L585.2,309.09 L587.5,309.08 L589.9,309.07 L592.2,309.06 L594.6,309.06 L597.0,309.05 L599.3,309.04 L601.7,309.04 L604.1,309.04 L606.4,309.03 L608.8,309.03 L611.2,309.04 L613.5,309.04 L615.9,309.05 L618.2,309.06 L620.6,309.07 L623.0,309.09 L625.3,309.11 L627.7,309.14 L630.1,309.16 L632.4,309.20 L634.8,309.23 L637.1,309.28 L639.5,309.32 L641.9,309.38 L644.2,309.43 L646.6,309.50" fill="none" stroke="#000" stroke-width="1.3" stroke-linejoin="round"/>
<path d="M34.5,329.6 L93.3,329.6 M183.4,329.6 L318.5,329.6" stroke="#333" stroke-width="1.2"/>
<rect x="93.3" y="314.8" width="90.1" height="29.5" fill="#00B0F6" stroke="#333" stroke-width="1.2"/>
<line x1="129.5" x2="129.5" y1="314.8" y2="344.3" stroke="#333" stroke-width="2.7"/>
<rect x="316.1" y="327.05" width="284.4" height="5.1" rx="2.7" ry="2.55" fill="#333"/>
<ellipse cx="601.8" cy="329.6" rx="2.7" ry="2.55" fill="#333"/>
<ellipse cx="605.5999999999999" cy="329.6" rx="2.7" ry="2.55" fill="#333"/>
<ellipse cx="614.3" cy="329.6" rx="2.7" ry="2.55" fill="#333"/>
<ellipse cx="622.3" cy="329.6" rx="2.7" ry="2.55" fill="#333"/>
<ellipse cx="646.9" cy="329.6" rx="2.7" ry="2.55" fill="#333"/>
<rect x="677.2" y="266.2" width="21.1" height="81.7" fill="#d9d9d9"/>
<path d="M4.5,347.6 L4.5,266.5 L697.95,266.5 L697.95,347.6 Z" fill="none" stroke="#333" stroke-width="0.68"/>
<line x1="677.2" x2="677.2" y1="266.2" y2="347.9" stroke="#333" stroke-width="1.35"/>
<text transform="translate(683.6,307.1) rotate(90) scale(1,1.15)" text-anchor="middle" font-size="9.9" fill="#1a1a1a">Private</text>
</g>
<g>
<line x1="21.7" x2="21.7" y1="354.4" y2="434.85" stroke="#ebebeb" stroke-width="0.6"/>
<line x1="280.9" x2="280.9" y1="354.4" y2="434.85" stroke="#ebebeb" stroke-width="0.6"/>
<line x1="540.1" x2="540.1" y1="354.4" y2="434.85" stroke="#ebebeb" stroke-width="0.6"/>
<line x1="151.3" x2="151.3" y1="354.4" y2="434.85" stroke="#ebebeb" stroke-width="1.2"/>
<line x1="410.5" x2="410.5" y1="354.4" y2="434.85" stroke="#ebebeb" stroke-width="1.2"/>
<line x1="669.7" x2="669.7" y1="354.4" y2="434.85" stroke="#ebebeb" stroke-width="1.2"/>
<path d="M34.5,387.43 L36.9,385.65 L39.2,383.98 L41.6,382.42 L44.0,380.96 L46.3,379.59 L48.7,378.30 L51.0,377.08 L53.4,375.93 L55.8,374.83 L58.1,373.78 L60.5,372.76 L62.9,371.77 L65.2,370.81 L67.6,369.85 L69.9,368.89 L72.3,367.93 L74.7,366.96 L77.0,365.97 L79.4,364.99 L81.8,364.03 L84.1,363.09 L86.5,362.19 L88.9,361.33 L91.2,360.54 L93.6,359.82 L95.9,359.18 L98.3,358.63 L100.7,358.18 L103.0,357.82 L105.4,357.56 L107.8,357.41 L110.1,357.35 L112.5,357.40 L114.9,357.55 L117.2,357.82 L119.6,358.17 L121.9,358.60 L124.3,359.09 L126.7,359.60 L129.0,360.12 L131.4,360.63 L133.8,361.14 L136.1,361.66 L138.5,362.21 L140.8,362.81 L143.2,363.47 L145.6,364.23 L147.9,365.10 L150.3,366.07 L152.7,367.14 L155.0,368.27 L157.4,369.44 L159.8,370.61 L162.1,371.76 L164.5,372.87 L166.8,373.95 L169.2,375.00 L171.6,376.01 L173.9,376.99 L176.3,377.93 L178.7,378.84 L181.0,379.71 L183.4,380.56 L185.8,381.36 L188.1,382.14 L190.5,382.88 L192.8,383.59 L195.2,384.27 L197.6,384.91 L199.9,385.52 L202.3,386.10 L204.7,386.65 L207.0,387.17 L209.4,387.66 L211.7,388.11 L214.1,388.54 L216.5,388.95 L218.8,389.33 L221.2,389.68 L223.6,390.01 L225.9,390.32 L228.3,390.61 L230.7,390.88 L233.0,391.14 L235.4,391.37 L237.7,391.59 L240.1,391.80 L242.5,392.00 L244.8,392.18 L247.2,392.35 L249.6,392.52 L251.9,392.67 L254.3,392.83 L256.7,392.97 L259.0,393.11 L261.4,393.25 L263.7,393.39 L266.1,393.53 L268.5,393.66 L270.8,393.80 L273.2,393.93 L275.6,394.06 L277.9,394.18 L280.3,394.30 L282.6,394.41 L285.0,394.52 L287.4,394.62 L289.7,394.72 L292.1,394.80 L294.5,394.88 L296.8,394.95 L299.2,395.01 L301.6,395.06 L303.9,395.10 L306.3,395.12 L308.6,395.14 L311.0,395.14 L313.4,395.13 L315.7,395.10 L318.1,395.06 L320.5,395.02 L322.8,394.96 L325.2,394.89 L327.6,394.81 L329.9,394.72 L332.3,394.62 L334.6,394.51 L337.0,394.40 L339.4,394.28 L341.7,394.15 L344.1,394.01 L346.5,393.87 L348.8,393.72 L351.2,393.57 L353.5,393.42 L355.9,393.26 L358.3,393.09 L360.6,392.93 L363.0,392.76 L365.4,392.59 L367.7,392.42 L370.1,392.25 L372.5,392.08 L374.8,391.91 L377.2,391.74 L379.5,391.57 L381.9,391.40 L384.3,391.24 L386.6,391.08 L389.0,390.92 L391.4,390.77 L393.7,390.63 L396.1,390.49 L398.5,390.35 L400.8,390.23 L403.2,390.11 L405.5,390.00 L407.9,389.90 L410.3,389.81 L412.6,389.73 L415.0,389.66 L417.4,389.61 L419.7,389.57 L422.1,389.54 L424.4,389.52 L426.8,389.52 L429.2,389.53 L431.5,389.56 L433.9,389.60 L436.3,389.65 L438.6,389.71 L441.0,389.78 L443.4,389.86 L445.7,389.96 L448.1,390.06 L450.4,390.17 L452.8,390.29 L455.2,390.42 L457.5,390.55 L459.9,390.70 L462.3,390.84 L464.6,391.00 L467.0,391.16 L469.4,391.32 L471.7,391.49 L474.1,391.66 L476.4,391.84 L478.8,392.02 L481.2,392.20 L483.5,392.38 L485.9,392.57 L488.3,392.75 L490.6,392.94 L493.0,393.12 L495.3,393.31 L497.7,393.49 L500.1,393.67 L502.4,393.85 L504.8,394.03 L507.2,394.20 L509.5,394.37 L511.9,394.54 L514.3,394.70 L516.6,394.85 L519.0,395.00 L521.3,395.15 L523.7,395.28 L526.1,395.41 L528.4,395.54 L530.8,395.65 L533.2,395.76 L535.5,395.86 L537.9,395.95 L540.3,396.04 L542.6,396.13 L545.0,396.20 L547.3,396.27 L549.7,396.34 L552.1,396.40 L554.4,396.45 L556.8,396.50 L559.2,396.55 L561.5,396.59 L563.9,396.63 L566.2,396.66 L568.6,396.69 L571.0,396.71 L573.3,396.74 L575.7,396.76 L578.1,396.77 L580.4,396.79 L582.8,396.80 L585.2,396.81 L587.5,396.82 L589.9,396.82 L592.2,396.83 L594.6,396.83 L597.0,396.84 L599.3,396.84 L601.7,396.84 L604.1,396.84 L606.4,396.84 L608.8,396.84 L611.2,396.84 L613.5,396.85 L615.9,396.85 L618.2,396.85 L620.6,396.86 L623.0,396.86 L625.3,396.87 L627.7,396.88 L630.1,396.89 L632.4,396.91 L634.8,396.92 L637.1,396.94 L639.5,396.97 L641.9,396.99 L644.2,397.02 L646.6,397.06 L646.6,396.9 L34.5,396.9 Z" fill="#bebebe"/>
<path d="M34.5,387.43 L36.9,385.65 L39.2,383.98 L41.6,382.42 L44.0,380.96 L46.3,379.59 L48.7,378.30 L51.0,377.08 L53.4,375.93 L55.8,374.83 L58.1,373.78 L60.5,372.76 L62.9,371.77 L65.2,370.81 L67.6,369.85 L69.9,368.89 L72.3,367.93 L74.7,366.96 L77.0,365.97 L79.4,364.99 L81.8,364.03 L84.1,363.09 L86.5,362.19 L88.9,361.33 L91.2,360.54 L93.6,359.82 L95.9,359.18 L98.3,358.63 L100.7,358.18 L103.0,357.82 L105.4,357.56 L107.8,357.41 L110.1,357.35 L112.5,357.40 L114.9,357.55 L117.2,357.82 L119.6,358.17 L121.9,358.60 L124.3,359.09 L126.7,359.60 L129.0,360.12 L131.4,360.63 L133.8,361.14 L136.1,361.66 L138.5,362.21 L140.8,362.81 L143.2,363.47 L145.6,364.23 L147.9,365.10 L150.3,366.07 L152.7,367.14 L155.0,368.27 L157.4,369.44 L159.8,370.61 L162.1,371.76 L164.5,372.87 L166.8,373.95 L169.2,375.00 L171.6,376.01 L173.9,376.99 L176.3,377.93 L178.7,378.84 L181.0,379.71 L183.4,380.56 L185.8,381.36 L188.1,382.14 L190.5,382.88 L192.8,383.59 L195.2,384.27 L197.6,384.91 L199.9,385.52 L202.3,386.10 L204.7,386.65 L207.0,387.17 L209.4,387.66 L211.7,388.11 L214.1,388.54 L216.5,388.95 L218.8,389.33 L221.2,389.68 L223.6,390.01 L225.9,390.32 L228.3,390.61 L230.7,390.88 L233.0,391.14 L235.4,391.37 L237.7,391.59 L240.1,391.80 L242.5,392.00 L244.8,392.18 L247.2,392.35 L249.6,392.52 L251.9,392.67 L254.3,392.83 L256.7,392.97 L259.0,393.11 L261.4,393.25 L263.7,393.39 L266.1,393.53 L268.5,393.66 L270.8,393.80 L273.2,393.93 L275.6,394.06 L277.9,394.18 L280.3,394.30 L282.6,394.41 L285.0,394.52 L287.4,394.62 L289.7,394.72 L292.1,394.80 L294.5,394.88 L296.8,394.95 L299.2,395.01 L301.6,395.06 L303.9,395.10 L306.3,395.12 L308.6,395.14 L311.0,395.14 L313.4,395.13 L315.7,395.10 L318.1,395.06 L320.5,395.02 L322.8,394.96 L325.2,394.89 L327.6,394.81 L329.9,394.72 L332.3,394.62 L334.6,394.51 L337.0,394.40 L339.4,394.28 L341.7,394.15 L344.1,394.01 L346.5,393.87 L348.8,393.72 L351.2,393.57 L353.5,393.42 L355.9,393.26 L358.3,393.09 L360.6,392.93 L363.0,392.76 L365.4,392.59 L367.7,392.42 L370.1,392.25 L372.5,392.08 L374.8,391.91 L377.2,391.74 L379.5,391.57 L381.9,391.40 L384.3,391.24 L386.6,391.08 L389.0,390.92 L391.4,390.77 L393.7,390.63 L396.1,390.49 L398.5,390.35 L400.8,390.23 L403.2,390.11 L405.5,390.00 L407.9,389.90 L410.3,389.81 L412.6,389.73 L415.0,389.66 L417.4,389.61 L419.7,389.57 L422.1,389.54 L424.4,389.52 L426.8,389.52 L429.2,389.53 L431.5,389.56 L433.9,389.60 L436.3,389.65 L438.6,389.71 L441.0,389.78 L443.4,389.86 L445.7,389.96 L448.1,390.06 L450.4,390.17 L452.8,390.29 L455.2,390.42 L457.5,390.55 L459.9,390.70 L462.3,390.84 L464.6,391.00 L467.0,391.16 L469.4,391.32 L471.7,391.49 L474.1,391.66 L476.4,391.84 L478.8,392.02 L481.2,392.20 L483.5,392.38 L485.9,392.57 L488.3,392.75 L490.6,392.94 L493.0,393.12 L495.3,393.31 L497.7,393.49 L500.1,393.67 L502.4,393.85 L504.8,394.03 L507.2,394.20 L509.5,394.37 L511.9,394.54 L514.3,394.70 L516.6,394.85 L519.0,395.00 L521.3,395.15 L523.7,395.28 L526.1,395.41 L528.4,395.54 L530.8,395.65 L533.2,395.76 L535.5,395.86 L537.9,395.95 L540.3,396.04 L542.6,396.13 L545.0,396.20 L547.3,396.27 L549.7,396.34 L552.1,396.40 L554.4,396.45 L556.8,396.50 L559.2,396.55 L561.5,396.59 L563.9,396.63 L566.2,396.66 L568.6,396.69 L571.0,396.71 L573.3,396.74 L575.7,396.76 L578.1,396.77 L580.4,396.79 L582.8,396.80 L585.2,396.81 L587.5,396.82 L589.9,396.82 L592.2,396.83 L594.6,396.83 L597.0,396.84 L599.3,396.84 L601.7,396.84 L604.1,396.84 L606.4,396.84 L608.8,396.84 L611.2,396.84 L613.5,396.85 L615.9,396.85 L618.2,396.85 L620.6,396.86 L623.0,396.86 L625.3,396.87 L627.7,396.88 L630.1,396.89 L632.4,396.91 L634.8,396.92 L637.1,396.94 L639.5,396.97 L641.9,396.99 L644.2,397.02 L646.6,397.06" fill="none" stroke="#000" stroke-width="1.3" stroke-linejoin="round"/>
<path d="M34.5,416.9 L96.4,416.9 M211.6,416.9 L386.0,416.9" stroke="#333" stroke-width="1.2"/>
<rect x="96.4" y="402.1" width="115.2" height="29.5" fill="#E76BF3" stroke="#333" stroke-width="1.2"/>
<line x1="137.5" x2="137.5" y1="402.1" y2="431.6" stroke="#333" stroke-width="2.7"/>
<rect x="383.6" y="414.35" width="191.4" height="5.1" rx="2.7" ry="2.55" fill="#333"/>
<ellipse cx="577.3" cy="416.9" rx="2.7" ry="2.55" fill="#333"/>
<ellipse cx="579.8" cy="416.9" rx="2.7" ry="2.55" fill="#333"/>
<ellipse cx="582.3" cy="416.9" rx="2.7" ry="2.55" fill="#333"/>
<ellipse cx="584.8" cy="416.9" rx="2.7" ry="2.55" fill="#333"/>
<ellipse cx="587.3" cy="416.9" rx="2.7" ry="2.55" fill="#333"/>
<ellipse cx="589.8" cy="416.9" rx="2.7" ry="2.55" fill="#333"/>
<ellipse cx="592.3" cy="416.9" rx="2.7" ry="2.55" fill="#333"/>
<ellipse cx="599.8" cy="416.9" rx="2.7" ry="2.55" fill="#333"/>
<ellipse cx="617.0999999999999" cy="416.9" rx="2.7" ry="2.55" fill="#333"/>
<ellipse cx="620.9" cy="416.9" rx="2.7" ry="2.55" fill="#333"/>
<rect x="677.2" y="354.1" width="21.1" height="81.1" fill="#d9d9d9"/>
<path d="M4.5,434.85 L4.5,354.4 L697.95,354.4 L697.95,434.85 Z" fill="none" stroke="#333" stroke-width="0.68"/>
<line x1="677.2" x2="677.2" y1="354.1" y2="435.2" stroke="#333" stroke-width="1.35"/>
<text transform="translate(683.6,394.6) rotate(90) scale(1,1.15)" text-anchor="middle" font-size="9.9" fill="#1a1a1a">Self-employed</text>
</g>
<line x1="151.3" x2="151.3" y1="434.8" y2="437.9" stroke="#333" stroke-width="1.2"/>
<text transform="translate(151.3,448) scale(1.02,1)" text-anchor="middle" font-size="10.3" fill="#4d4d4d">100</text>
<line x1="410.5" x2="410.5" y1="434.8" y2="437.9" stroke="#333" stroke-width="1.2"/>
<text transform="translate(410.5,448) scale(1.02,1)" text-anchor="middle" font-size="10.3" fill="#4d4d4d">200</text>
<line x1="669.7" x2="669.7" y1="434.8" y2="437.9" stroke="#333" stroke-width="1.2"/>
<text transform="translate(669.7,448) scale(1.02,1)" text-anchor="middle" font-size="10.3" fill="#4d4d4d">300</text>
<text transform="translate(340.3,461) scale(1.14,1)" text-anchor="middle" font-size="11.67" fill="#000">Average glucose level</text>
</svg>
</body></html>
